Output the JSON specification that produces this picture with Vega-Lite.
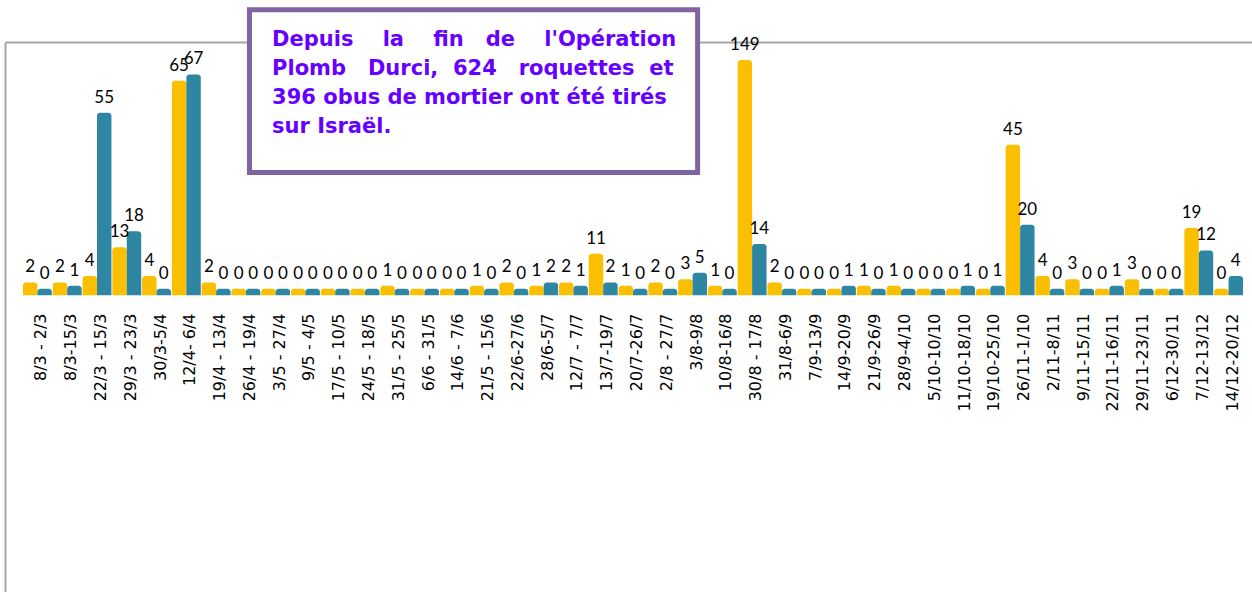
{
  "$schema": "https://vega.github.io/schema/vega-lite/v6.json",
  "width": 1247,
  "height": 550,
  "autosize": {"type": "none"},
  "padding": {"left": 5, "top": 42, "right": 0, "bottom": 0},
  "background": "white",
  "config": {"view": {"stroke": null}},
  "data": {"values": [
    {"semaine": "8/3 - 2/3", "Roquettes": 2, "Obus": 0},
    {"semaine": "8/3-15/3", "Roquettes": 2, "Obus": 1},
    {"semaine": "22/3 - 15/3", "Roquettes": 4, "Obus": 55},
    {"semaine": "29/3 - 23/3", "Roquettes": 13, "Obus": 18},
    {"semaine": "30/3-5/4", "Roquettes": 4, "Obus": 0},
    {"semaine": "12/4- 6/4", "Roquettes": 65, "Obus": 67},
    {"semaine": "19/4 - 13/4", "Roquettes": 2, "Obus": 0},
    {"semaine": "26/4 - 19/4", "Roquettes": 0, "Obus": 0},
    {"semaine": "3/5 - 27/4", "Roquettes": 0, "Obus": 0},
    {"semaine": "9/5 - 4/5", "Roquettes": 0, "Obus": 0},
    {"semaine": "17/5 - 10/5", "Roquettes": 0, "Obus": 0},
    {"semaine": "24/5 - 18/5", "Roquettes": 0, "Obus": 0},
    {"semaine": "31/5 - 25/5", "Roquettes": 1, "Obus": 0},
    {"semaine": "6/6 - 31/5", "Roquettes": 0, "Obus": 0},
    {"semaine": "14/6 - 7/6", "Roquettes": 0, "Obus": 0},
    {"semaine": "21/5 - 15/6", "Roquettes": 1, "Obus": 0},
    {"semaine": "22/6-27/6", "Roquettes": 2, "Obus": 0},
    {"semaine": "28/6-5/7", "Roquettes": 1, "Obus": 2},
    {"semaine": "12/7 - 7/7", "Roquettes": 2, "Obus": 1},
    {"semaine": "13/7-19/7", "Roquettes": 11, "Obus": 2},
    {"semaine": "20/7-26/7", "Roquettes": 1, "Obus": 0},
    {"semaine": "2/8 - 27/7", "Roquettes": 2, "Obus": 0},
    {"semaine": "3/8-9/8", "Roquettes": 3, "Obus": 5},
    {"semaine": "10/8-16/8", "Roquettes": 1, "Obus": 0},
    {"semaine": "30/8 - 17/8", "Roquettes": 149, "Obus": 14},
    {"semaine": "31/8-6/9", "Roquettes": 2, "Obus": 0},
    {"semaine": "7/9-13/9", "Roquettes": 0, "Obus": 0},
    {"semaine": "14/9-20/9", "Roquettes": 0, "Obus": 1},
    {"semaine": "21/9-26/9", "Roquettes": 1, "Obus": 0},
    {"semaine": "28/9-4/10", "Roquettes": 1, "Obus": 0},
    {"semaine": "5/10-10/10", "Roquettes": 0, "Obus": 0},
    {"semaine": "11/10-18/10", "Roquettes": 0, "Obus": 1},
    {"semaine": "19/10-25/10", "Roquettes": 0, "Obus": 1},
    {"semaine": "26/11-1/10", "Roquettes": 45, "Obus": 20},
    {"semaine": "2/11-8/11", "Roquettes": 4, "Obus": 0},
    {"semaine": "9/11-15/11", "Roquettes": 3, "Obus": 0},
    {"semaine": "22/11-16/11", "Roquettes": 0, "Obus": 1},
    {"semaine": "29/11-23/11", "Roquettes": 3, "Obus": 0},
    {"semaine": "6/12-30/11", "Roquettes": 0, "Obus": 0},
    {"semaine": "7/12-13/12", "Roquettes": 19, "Obus": 12},
    {"semaine": "14/12-20/12", "Roquettes": 0, "Obus": 4}
  ]},
  "layer": [
    {
      "transform": [{"fold": ["Roquettes", "Obus"], "as": ["type", "n"]}],
      "encoding": {
        "x": {
          "field": "semaine", "type": "nominal", "sort": null,
          "scale": {"range": [18, 1238], "paddingInner": 0.03, "paddingOuter": 0},
          "axis": {
            "orient": "bottom", "offset": -285, "domain": false, "ticks": false, "grid": false,
            "labelAngle": -90, "labelAlign": "right", "labelBaseline": "middle",
            "labelPadding": 6, "labelFont": "DejaVu Sans", "labelFontSize": 16,
            "labelColor": "#000000", "labelOffset": 4, "labelOverlap": false,
            "labelLimit": 0, "title": null
          }
        },
        "xOffset": {"field": "type", "type": "nominal", "sort": ["Roquettes", "Obus"]},
        "y": {
          "field": "n", "type": "quantitative",
          "scale": {"domain": [-94.7, 71.5], "range": [550, 18], "clamp": true, "zero": false, "nice": false},
          "axis": null
        }
      },
      "layer": [
        {
          "mark": {"type": "bar", "cornerRadiusTopLeft": 3, "cornerRadiusTopRight": 3},
          "encoding": {
            "y2": {"datum": -2},
            "color": {
              "field": "type", "type": "nominal",
              "scale": {"domain": ["Roquettes", "Obus"], "range": ["#F9BF00", "#2E86A2"]},
              "legend": null
            }
          }
        },
        {
          "mark": {"type": "text", "baseline": "bottom", "dy": -6, "font": "Lato", "fontSize": 17, "color": "#000000"},
          "encoding": {"text": {"field": "n", "type": "quantitative"}}
        }
      ]
    },
    {
      "data": {"values": [{}]},
      "layer": [
        {
          "mark": {"type": "rect", "fill": "white", "stroke": "#8064A2", "strokeWidth": 5},
          "encoding": {
            "x": {
              "datum": 7.61, "type": "quantitative",
              "scale": {"domain": [-0.605, 41.3], "nice": false, "zero": false},
              "axis": {"orient": "top", "domain": true, "domainColor": "#A6A6A6", "domainWidth": 2, "labels": false, "ticks": false, "grid": false, "title": null}
            },
            "x2": {"datum": 22.67},
            "y": {
              "datum": 87.3, "type": "quantitative",
              "scale": {"domain": [-94.69, 77.19], "nice": false, "zero": false},
              "axis": {"orient": "left", "domain": true, "domainColor": "#A6A6A6", "domainWidth": 2, "labels": false, "ticks": false, "grid": false, "title": null}
            },
            "y2": {"datum": 36.4}
          }
        },
        {
          "mark": {
            "type": "text", "align": "left", "baseline": "alphabetic",
            "font": "DejaVu Sans", "fontWeight": "bold", "fontSize": 21, "lineHeight": 29,
            "color": "#6600FF",
            "text": [
              "Depuis\u00a0\u00a0\u00a0 la\u00a0\u00a0\u00a0 fin\u00a0\u00a0 de\u00a0\u00a0\u00a0 l'Opération",
              "Plomb\u00a0\u00a0 Durci,\u00a0 624\u00a0\u00a0 roquettes\u00a0 et",
              "396 obus de mortier ont été tirés",
              "sur Israël."
            ]
          },
          "encoding": {
            "x": {
              "datum": 8.37, "type": "quantitative",
              "axis": {"orient": "top", "domain": true, "domainColor": "#A6A6A6", "domainWidth": 2, "labels": false, "ticks": false, "grid": false, "title": null}
            },
            "y": {
              "datum": 75.9, "type": "quantitative",
              "axis": {"orient": "left", "domain": true, "domainColor": "#A6A6A6", "domainWidth": 2, "labels": false, "ticks": false, "grid": false, "title": null}
            }
          }
        }
      ]
    }
  ],
  "resolve": {"scale": {"x": "independent", "y": "independent"}}
}
